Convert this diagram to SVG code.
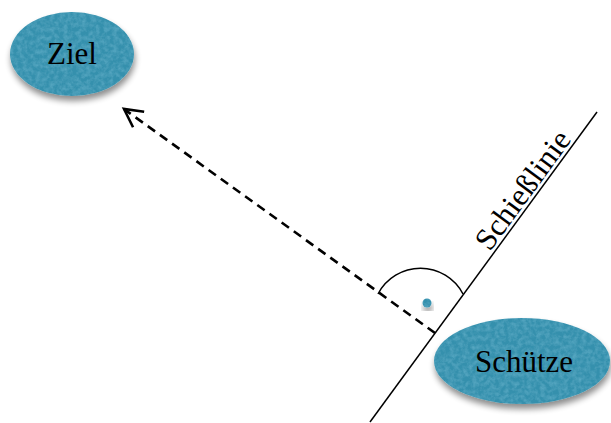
<svg xmlns="http://www.w3.org/2000/svg" width="611" height="423" viewBox="0 0 611 423">
<style>
.lbl{font-family:"Liberation Serif","Times New Roman",serif;font-size:31px;fill:#000}
.node{fill:#3490ad}
</style>
<defs>
<filter id="tex" x="-20%" y="-20%" width="140%" height="150%">
<feGaussianBlur in="SourceAlpha" stdDeviation="3"/>
<feOffset dx="1" dy="5" result="off"/>
<feComponentTransfer in="off" result="sh"><feFuncA type="linear" slope="0.45"/></feComponentTransfer>
<feTurbulence type="fractalNoise" baseFrequency="0.22" numOctaves="3" seed="5" result="noise"/>
<feColorMatrix in="noise" type="matrix" values="0 0 0 0 0.1  0 0 0 0 0.4  0 0 0 0 0.55  1.6 0 0 0 -0.55" result="spk"/>
<feComposite in="spk" in2="SourceGraphic" operator="atop" result="tx"/>
<feMerge><feMergeNode in="sh"/><feMergeNode in="tx"/></feMerge>
</filter>
<marker id="ah" markerUnits="userSpaceOnUse" viewBox="-24 -14 30 28" refX="0" refY="0" markerWidth="30" markerHeight="28" orient="auto">
<path d="M-18,-9.5 L0,0 L-18,9.5" fill="none" stroke="#000" stroke-width="2.6"/>
</marker>
</defs>
<rect width="611" height="423" fill="#fff"/>
<g id="connectors">
<line x1="370" y1="422" x2="597" y2="112" stroke="#000" stroke-width="1.5"/>
<line x1="435" y1="333" x2="124" y2="109" stroke="#000" stroke-width="2.6" stroke-dasharray="9,6" marker-end="url(#ah)"/>
<path d="M378,294 A48,48 0 0 1 463,294" fill="none" stroke="#000" stroke-width="1.5"/>
<circle cx="427" cy="303" r="4.5" class="node" filter="url(#tex)"/>
<text class="lbl" x="531" y="196" text-anchor="middle" font-size="32" transform="rotate(-53.8 531 196)">Schießlinie</text>
</g>
<g id="ziel">
<ellipse cx="72" cy="54" rx="62" ry="42" class="node" filter="url(#tex)"/>
<text class="lbl" x="72" y="64" text-anchor="middle">Ziel</text>
</g>
<g id="schuetze">
<ellipse cx="522" cy="361" rx="88" ry="43" class="node" filter="url(#tex)"/>
<text class="lbl" x="524" y="372" text-anchor="middle">Schütze</text>
</g>
</svg>
